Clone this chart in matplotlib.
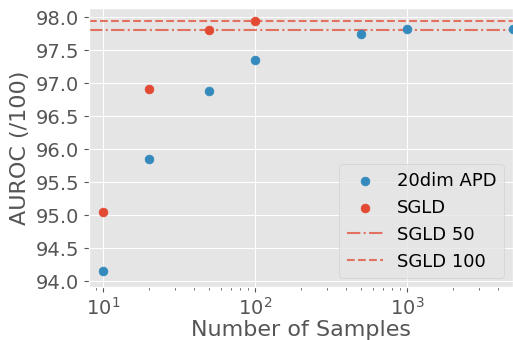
import matplotlib
matplotlib.use("Agg")
import matplotlib.pyplot as pyplot
from matplotlib.ticker import MultipleLocator, FormatStrFormatter

pyplot.style.use("ggplot")

samples_apd = [10, 20, 50, 100, 500, 1000, 5000]
auroc_apd = [94.15, 95.85, 96.89, 97.35, 97.75, 97.82, 97.82]

samples_sgld = [10, 20, 50, 100]
auroc_sgld = [95.05, 96.92, 97.81, 97.94]

sgld_50 = 97.81
sgld_100 = 97.94

fig = pyplot.figure(figsize=(5.13, 3.40), dpi=100)
ax = fig.add_axes([0.1735, 0.156, 0.8265, 0.82])

ax.scatter(samples_apd, auroc_apd, s=40, color="#348ABD", label="20dim APD", zorder=3)
ax.scatter(samples_sgld, auroc_sgld, s=40, color="#E24A33", label="SGLD", zorder=3)
ax.axhline(sgld_50, linestyle="-.", color="#E24A33", alpha=0.75, linewidth=1.5, label="SGLD 50")
ax.axhline(sgld_100, linestyle="--", color="#E24A33", alpha=0.75, linewidth=1.5, label="SGLD 100")

ax.set_xscale("log")
ax.set_xlim(8.1, 5000)
ax.set_ylim(93.91, 98.14)
ax.yaxis.set_major_locator(MultipleLocator(0.5))
ax.yaxis.set_major_formatter(FormatStrFormatter("%.1f"))
ax.set_xlabel("Number of Samples", fontsize=16, labelpad=1)
ax.set_ylabel("AUROC (/100)", fontsize=16)
ax.tick_params("both", labelsize=14)
ax.legend(loc="lower right", fontsize=13)

fig.savefig("out.png")
